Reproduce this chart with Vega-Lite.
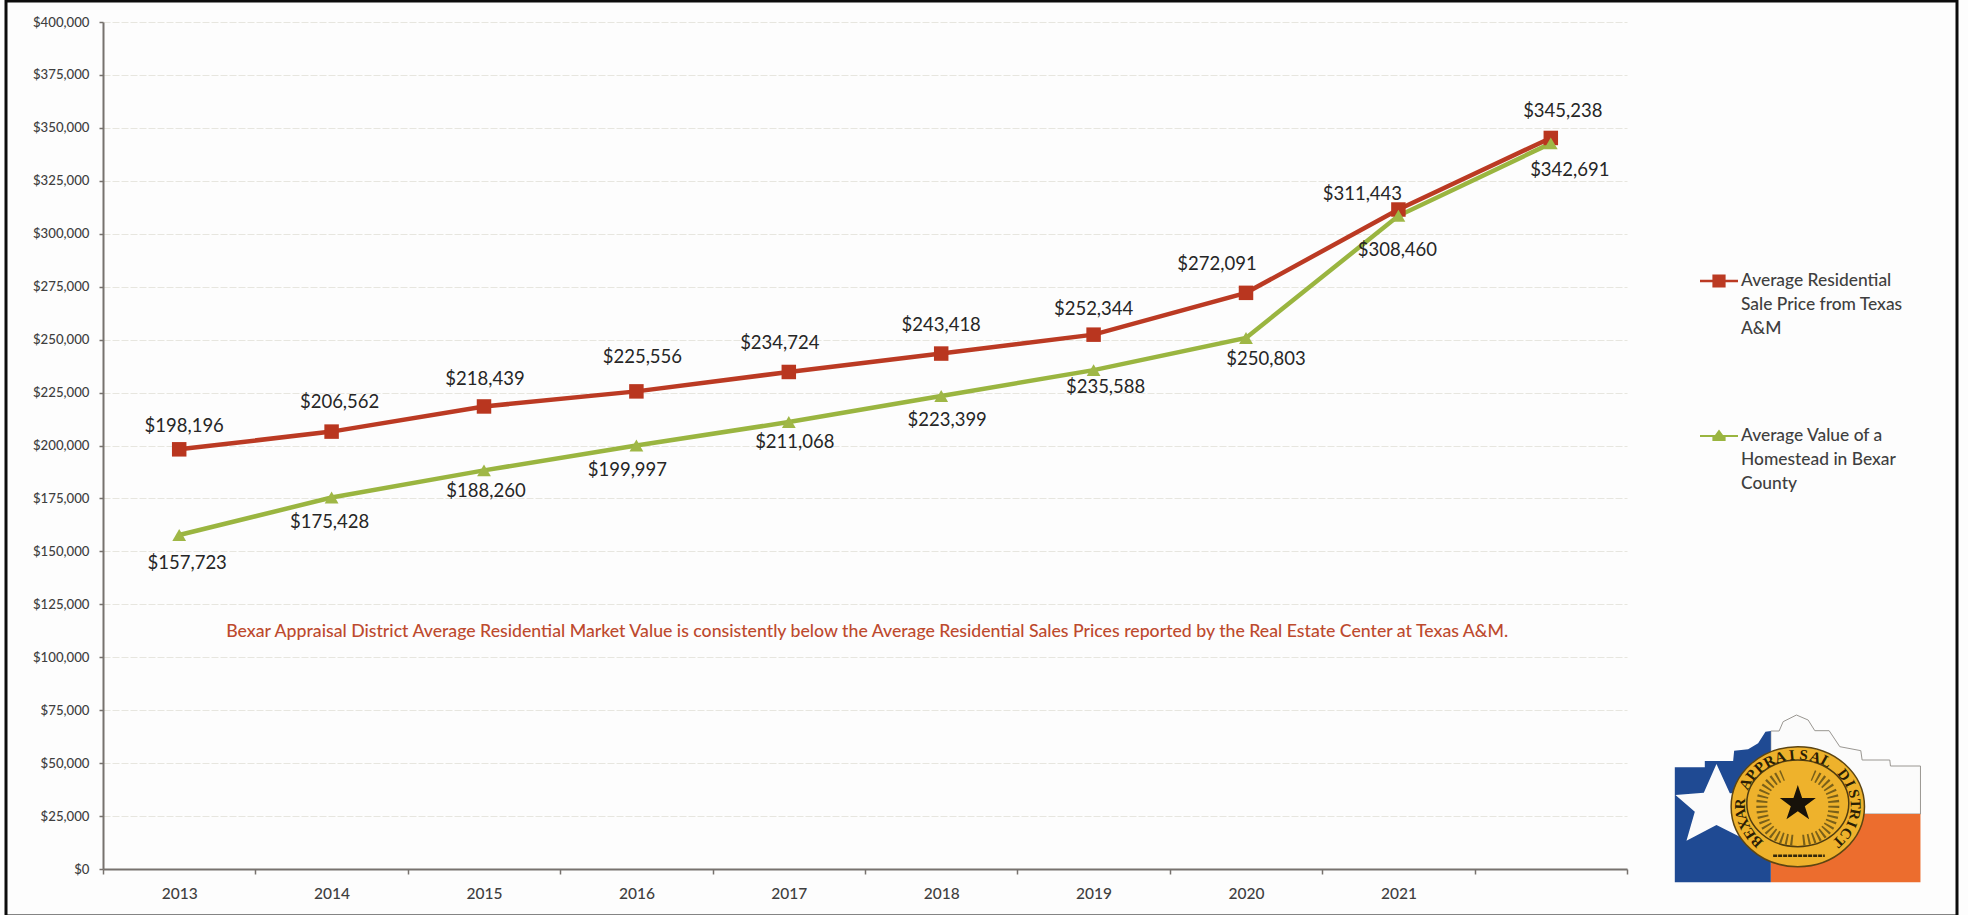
{
  "$schema": "https://vega.github.io/schema/vega-lite/v6.json",
  "width": 1951,
  "height": 915,
  "autosize": {"type": "none"},
  "padding": {"left": 6, "top": 1, "right": 11, "bottom": 0},
  "background": "#fdfdfd",
  "config": {
    "font": "Lato",
    "view": {"stroke": "#0c0c0c", "strokeWidth": 3}
  },
  "datasets": {
    "prices": [
      {"year": "2013", "series": "Average Residential Sale Price from Texas A&M", "value": 198196},
      {"year": "2014", "series": "Average Residential Sale Price from Texas A&M", "value": 206562},
      {"year": "2015", "series": "Average Residential Sale Price from Texas A&M", "value": 218439},
      {"year": "2016", "series": "Average Residential Sale Price from Texas A&M", "value": 225556},
      {"year": "2017", "series": "Average Residential Sale Price from Texas A&M", "value": 234724},
      {"year": "2018", "series": "Average Residential Sale Price from Texas A&M", "value": 243418},
      {"year": "2019", "series": "Average Residential Sale Price from Texas A&M", "value": 252344},
      {"year": "2020", "series": "Average Residential Sale Price from Texas A&M", "value": 272091},
      {"year": "2021", "series": "Average Residential Sale Price from Texas A&M", "value": 311443},
      {"year": "2022", "series": "Average Residential Sale Price from Texas A&M", "value": 345238},
      {"year": "2013", "series": "Average Value of a Homestead in Bexar County", "value": 157723},
      {"year": "2014", "series": "Average Value of a Homestead in Bexar County", "value": 175428},
      {"year": "2015", "series": "Average Value of a Homestead in Bexar County", "value": 188260},
      {"year": "2016", "series": "Average Value of a Homestead in Bexar County", "value": 199997},
      {"year": "2017", "series": "Average Value of a Homestead in Bexar County", "value": 211068},
      {"year": "2018", "series": "Average Value of a Homestead in Bexar County", "value": 223399},
      {"year": "2019", "series": "Average Value of a Homestead in Bexar County", "value": 235588},
      {"year": "2020", "series": "Average Value of a Homestead in Bexar County", "value": 250803},
      {"year": "2021", "series": "Average Value of a Homestead in Bexar County", "value": 308460},
      {"year": "2022", "series": "Average Value of a Homestead in Bexar County", "value": 342691}
    ],
    "note": [
      {"year": "2018", "value": 112000, "text": "Bexar Appraisal District Average Residential Market Value is consistently below the Average Residential Sales Prices reported by the Real Estate Center at Texas A&M."}
    ],
    "logo": [{"year": "2022", "value": 33214}],
    "seal": [
      {"year": "2022", "value": 33214, "letter": "B", "order": 0}, {"year": "2022", "value": 33214, "letter": "E", "order": 1}, {"year": "2022", "value": 33214, "letter": "X", "order": 2},
      {"year": "2022", "value": 33214, "letter": "A", "order": 3}, {"year": "2022", "value": 33214, "letter": "R", "order": 4}, {"year": "2022", "value": 33214, "letter": "A", "order": 6},
      {"year": "2022", "value": 33214, "letter": "P", "order": 7}, {"year": "2022", "value": 33214, "letter": "P", "order": 8}, {"year": "2022", "value": 33214, "letter": "R", "order": 9},
      {"year": "2022", "value": 33214, "letter": "A", "order": 10}, {"year": "2022", "value": 33214, "letter": "I", "order": 11}, {"year": "2022", "value": 33214, "letter": "S", "order": 12},
      {"year": "2022", "value": 33214, "letter": "A", "order": 13}, {"year": "2022", "value": 33214, "letter": "L", "order": 14}, {"year": "2022", "value": 33214, "letter": "D", "order": 16},
      {"year": "2022", "value": 33214, "letter": "I", "order": 17}, {"year": "2022", "value": 33214, "letter": "S", "order": 18}, {"year": "2022", "value": 33214, "letter": "T", "order": 19},
      {"year": "2022", "value": 33214, "letter": "R", "order": 20}, {"year": "2022", "value": 33214, "letter": "I", "order": 21}, {"year": "2022", "value": 33214, "letter": "C", "order": 22},
      {"year": "2022", "value": 33214, "letter": "T", "order": 23}
    ]
  },
  "data": {"name": "prices"},
  "encoding": {
    "x": {
      "field": "year",
      "type": "ordinal",
      "scale": {
        "type": "band",
        "paddingInner": 0,
        "paddingOuter": 0,
        "domain": ["2013", "2014", "2015", "2016", "2017", "2018", "2019", "2020", "2021", "2022"],
        "range": [97, 1621]
      },
      "axis": {
        "title": null,
        "offset": -47,
        "grid": false,
        "labelAngle": 0,
        "labelExpr": "datum.value == '2022' ? '' : datum.value",
        "labelFontSize": 15.5,
        "labelFontWeight": 500,
        "labelColor": "#3f3f3f",
        "labelPadding": 12,
        "domainColor": "#77726e",
        "domainWidth": 2,
        "tickColor": "#77726e",
        "tickWidth": 1.5,
        "tickSize": 5,
        "tickBand": "extent"
      }
    },
    "y": {
      "field": "value",
      "type": "quantitative",
      "scale": {"domain": [0, 400000], "range": [868, 21], "nice": false},
      "axis": {
        "title": null,
        "offset": -97,
        "values": [0, 25000, 50000, 75000, 100000, 125000, 150000, 175000, 200000, 225000, 250000, 275000, 300000, 325000, 350000, 375000, 400000],
        "format": "$,.0f",
        "labelFontSize": 13.2,
        "labelFontWeight": 500,
        "labelColor": "#3f3f3f",
        "labelPadding": 10,
        "domainColor": "#77726e",
        "domainWidth": 2,
        "tickColor": "#77726e",
        "tickWidth": 1.5,
        "tickSize": 4,
        "grid": true,
        "gridColor": "#e7e6df",
        "gridWidth": 1,
        "gridDash": [7, 2]
      }
    }
  },
  "layer": [
    {
      "mark": {"type": "line", "strokeWidth": 4.5},
      "encoding": {
        "color": {
          "field": "series",
          "type": "nominal",
          "scale": {
            "domain": ["Average Residential Sale Price from Texas A&M", "Average Value of a Homestead in Bexar County"],
            "range": ["#bb3a23", "#9ab540"]
          },
          "legend": {
            "title": null,
            "orient": "none",
            "legendX": 1693,
            "legendY": 260,
            "padding": 0,
            "symbolSize": 1600,
            "symbolStrokeWidth": 0,
            "labelOffset": 2,
            "labelFontSize": 17.4,
            "labelFontWeight": 500,
            "labelColor": "#3f3f3f",
            "labelLimit": 400,
            "labelBaseline": "top",
            "rowPadding": 78,
            "labelExpr": "indexof(datum.value, 'Texas') >= 0 ? ['Average Residential', 'Sale Price from Texas', 'A&M'] : ['Average Value of a', 'Homestead in Bexar', 'County']",
            "encoding": {
              "symbols": {
                "shape": {"value": {"expr": "indexof(datum.value, 'Texas') >= 0 ? 'M-0.95,-0.06H-0.33V-0.33H0.33V-0.06H0.95V0.06H0.33V0.33H-0.33V0.06H-0.95Z' : 'M-0.95,-0.05H-0.2L0,-0.33L0.2,-0.05H0.95V0.05H0.33V0.25H-0.33V0.05H-0.95Z'"}},
                "fill": {"value": {"expr": "indexof(datum.value, 'Texas') >= 0 ? '#bb3a23' : '#9ab540'"}},
                "opacity": {"value": 1}
              },
              "labels": {
                "lineHeight": {"value": 24},
                "dy": {"value": -9}
              }
            }
          }
        }
      }
    },
    {
      "transform": [{"filter": "indexof(datum.series, 'Texas') >= 0"}],
      "mark": {"type": "point", "shape": "square", "size": 210, "filled": true, "opacity": 1, "strokeWidth": 0, "fill": "#b9361f"}
    },
    {
      "transform": [{"filter": "indexof(datum.series, 'Bexar') >= 0"}],
      "mark": {"type": "point", "shape": "triangle-up", "size": 190, "filled": true, "opacity": 1, "strokeWidth": 0, "fill": "#9fb746"}
    },
    {
      "transform": [{"filter": "indexof(datum.series, 'Texas') >= 0"}],
      "mark": {
        "type": "text",
        "fontSize": 18.5,
        "color": "#262626",
        "baseline": "middle",
        "dx": {"expr": "{'2013':5,'2014':8,'2015':1,'2016':6,'2017':-9,'2018':0,'2019':0,'2020':-29,'2021':-36,'2022':12}[datum.year]"},
        "dy": {"expr": "{'2013':-23,'2014':-30,'2015':-27,'2016':-34,'2017':-29,'2018':-29,'2019':-26,'2020':-29,'2021':-16,'2022':-27}[datum.year]"}
      },
      "encoding": {
        "text": {"field": "value", "type": "quantitative", "format": "$,.0f"}
      }
    },
    {
      "transform": [{"filter": "indexof(datum.series, 'Bexar') >= 0"}],
      "mark": {
        "type": "text",
        "fontSize": 18.5,
        "color": "#262626",
        "baseline": "middle",
        "dx": {"expr": "{'2013':8,'2014':-2,'2015':2,'2016':-9,'2017':6,'2018':6,'2019':12,'2020':20,'2021':-1,'2022':19}[datum.year]"},
        "dy": {"expr": "{'2013':28,'2014':24,'2015':21,'2016':24,'2017':20,'2018':24,'2019':17,'2020':21,'2021':34,'2022':27}[datum.year]"}
      },
      "encoding": {
        "text": {"field": "value", "type": "quantitative", "format": "$,.0f"}
      }
    },
    {
      "data": {"name": "note"},
      "mark": {"type": "text", "fontSize": 17.7, "fontWeight": 500, "dx": -74, "baseline": "middle", "color": "#bd4a2e"},
      "encoding": {
        "text": {"field": "text", "type": "nominal"}
      }
    },
    {
      "data": {"name": "logo"},
      "layer": [
        {"mark": {"type": "point", "xOffset": 247, "size": 0.4444, "filled": true, "opacity": 1, "strokeWidth": 1, "fill": "#fbfbfb", "stroke": "#9a9792", "shape": "M-81,-203L-56,-203L-44,-231L-4,-251L31,-236L51,-204L94,-204L126,-156L189,-144L193,-116L276,-116L278,-98L368,-98L368,46L-81,46Z"}},
        {"mark": {"type": "point", "xOffset": 247, "size": 0.4444, "filled": true, "opacity": 1, "strokeWidth": 0, "fill": "#ec6d2e", "shape": "M-81,46L368,46L368,251L-81,251Z"}},
        {"mark": {"type": "point", "xOffset": 247, "size": 0.4444, "filled": true, "opacity": 1, "strokeWidth": 0, "fill": "#1f4a93", "shape": "M-369,-94L-279,-94L-279,-113L-194,-113L-191,-144L-149,-148L-119,-166L-97,-201L-81,-203L-81,251L-369,251Z"}},
        {"mark": {"type": "point", "xOffset": 247, "size": 0.4444, "filled": true, "opacity": 1, "strokeWidth": 0, "fill": "#fbfbfb", "shape": "M-244,-104L-204,-16L-94,-16L-174,114L-244,79L-334,126L-309,39L-367,-11L-282,-18Z"}},
        {"mark": {"type": "point", "xOffset": 247, "size": 0.4444, "filled": true, "opacity": 1, "strokeWidth": 1.5, "fill": "#eeb22c", "stroke": "#5d4512", "shape": "M-200,24A200,180 0 1 1 200,24A200,180 0 1 1 -200,24Z"}},
        {"mark": {"type": "point", "xOffset": 247, "size": 0.4444, "filled": false, "opacity": 1, "strokeWidth": 1.5, "stroke": "#4f3c10", "shape": "M-153,14A153,130 0 1 1 153,14A153,130 0 1 1 -153,14Z"}},
        {"mark": {"type": "point", "xOffset": 247, "size": 0.4444, "filled": false, "opacity": 1, "strokeWidth": 11, "strokeDash": [2, 3], "stroke": "#7a6019", "shape": "M-15,125Q-110,115 -108,15Q-105,-45 -45,-70M15,125Q110,115 108,15Q105,-45 45,-70"}},
        {"mark": {"type": "point", "xOffset": 247, "size": 0.4444, "filled": false, "opacity": 1, "strokeWidth": 2.5, "strokeDash": [4, 1], "stroke": "#33270a", "shape": "M-74,171L81,171"}},
        {"mark": {"type": "point", "xOffset": 247, "size": 0.4444, "filled": true, "opacity": 1, "strokeWidth": 0, "fill": "#17120a", "shape": "M0,-41L13,-2L54,-2L21,23L34,62L0,38L-34,62L-21,23L-54,-2L-13,-2Z"}}
      ]
    },
    {
      "data": {"name": "seal"},
      "mark": {
        "type": "text",
        "font": "Liberation Serif",
        "fontSize": 15,
        "fontWeight": "bold",
        "align": "center",
        "baseline": "alphabetic",
        "color": "#2a1e05",
        "xOffset": {"expr": "247 + 53 * sin((-135 + datum.order * 270 / 23) * PI / 180)"},
        "yOffset": {"expr": "7 - 46 * cos((-135 + datum.order * 270 / 23) * PI / 180)"},
        "angle": {"expr": "(360 - 135 + datum.order * 270 / 23) % 360"}
      },
      "encoding": {
        "text": {"field": "letter", "type": "nominal"}
      }
    }
  ]
}
